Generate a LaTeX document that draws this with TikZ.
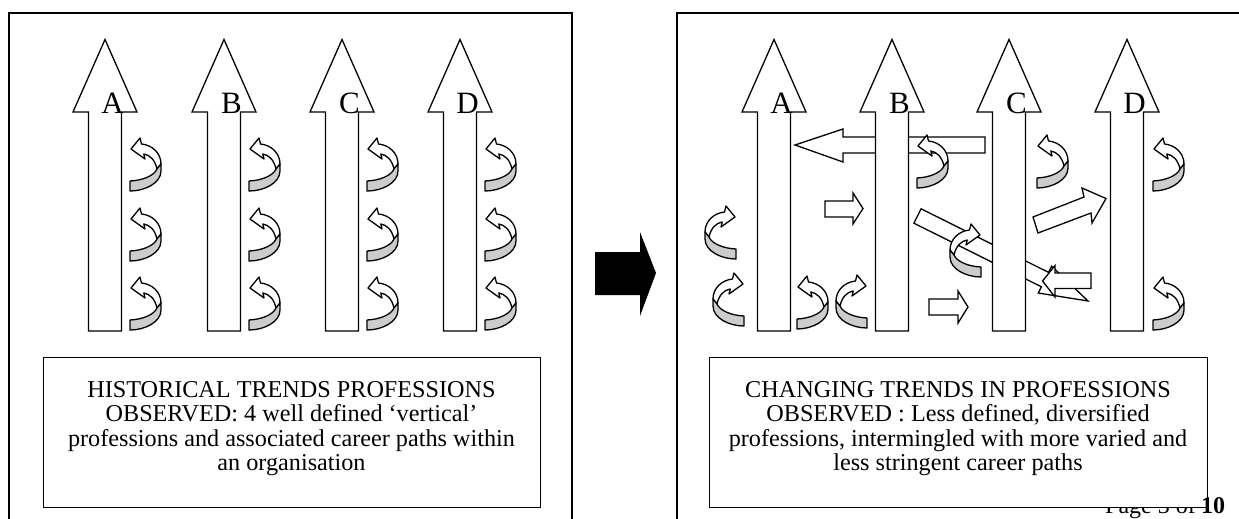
\documentclass[tikz,border=0pt]{standalone}
\usepackage{fontspec}
\setmainfont{Liberation Serif}
\tikzset{
  blk/.style={draw=black, line width=1.3pt, fill=white, line join=miter},
  paneltop/.style={draw=black, line width=2.2pt},
  panelside/.style={draw=black, line width=1.2pt},
  tbox/.style={draw=black, line width=1.4pt, fill=white},
  curlline/.style={draw=black, line width=1.3pt, line join=round},
  curl/.pic={
    \path[curlline, fill=white] (1,11) -- (10,0) -- (11.5,6) .. controls (22,7) and (31,15) .. (31,26) -- (27,31) .. controls (25,22) and (20,17) .. (13.8,16) -- (15,21) -- cycle;
    \path[curlline, fill=black!20] (0,43) .. controls (12,42.5) and (24,38) .. (27,31) -- (31,26) -- (31,33) .. controls (31,45) and (15,53) .. (0,53) -- cycle;
  },
  curlR/.pic={
    \path[curlline, fill=white] (30,11) -- (21,0) -- (19.5,6) .. controls (9,7) and (0,15) .. (0,26) -- (4,31) .. controls (6,22) and (11,17) .. (17.2,16) -- (16,21) -- cycle;
    \path[curlline, fill=black!20] (31,43) .. controls (19,42.5) and (7,38) .. (4,31) -- (0,26) -- (0,33) .. controls (0,45) and (16,53) .. (31,53) -- cycle;
  },
  lbl/.style={font=\fontsize{31}{31}\selectfont, inner sep=0pt, anchor=base},
  txt/.style={font=\fontsize{24.2}{25}\selectfont, inner sep=0pt, anchor=base},
  pagetxt/.style={font=\fontsize{24}{24}\selectfont, inner sep=0pt},
}
\newcommand\vprof[3]{%
  \draw[blk] (#1,39.5) -- ++(32,72.5) -- ++(-15.5,0) -- ++(0,219) -- ++(-33,0) -- ++(0,-219) -- ++(-15.5,0) -- cycle;
  \node[lbl] (#3) at (#1+7.5,113) {#2};
}
\begin{document}
\begin{tikzpicture}[x=1pt,y=-1pt]
\useasboundingbox (0,0) rectangle (1239,519);
% panels
\draw[panelside] (9,519) -- (9,13);
\draw[panelside] (572,519) -- (572,13);
\draw[paneltop] (8.4,13) -- (572.6,13);
\draw[panelside] (677,519) -- (677,13);
\draw[paneltop] (676.4,13) -- (1245,13);
% black transition arrow
\fill[black] (595,252) -- (640,252) -- (640,232) -- (656,273) -- (640,316) -- (640,295) -- (595,295) -- cycle;

% ---------- left panel ----------
\vprof{105}{A}{la}
\vprof{224}{B}{lb}
\vprof{342}{C}{lc}
\vprof{460}{D}{ld}
\foreach \xx in {105,224,342,460}{
  \foreach \yy in {138,208,277}{
    \pic at (\xx+25,\yy) {curl};
  }
}
\node[tbox, minimum width=497pt, minimum height=150pt, anchor=north west, inner sep=0pt] (lbox) at (43,357) {};
\node[txt] (lt1) at (291.5,397) {HISTORICAL TRENDS PROFESSIONS};
\node[txt] (lt2) at (291.5,421.5) {OBSERVED: 4 well defined ‘vertical’};
\node[txt] (lt3) at (291.5,446) {professions and associated career paths within};
\node[txt] (lt4) at (291.5,470.5) {an organisation};

% ---------- right panel ----------
\draw[blk] (795,145) -- (843,129) -- (843,137) -- (985,137) -- (985,153) -- (843,153) -- (843,162) -- cycle;
\draw[blk] (921.1,208.8) -- (1048.6,272.4) -- (1051.7,266.2) -- (1088,301) -- (1038.3,293) -- (1041.4,286.8) -- (913.9,223.2) -- cycle;
\vprof{774}{A}{ra}
\vprof{892}{B}{rb}
\vprof{1009}{C}{rc}
\vprof{1127}{D}{rd}
\draw[blk] (825,201) -- (853,201) -- (853,193) -- (863,208.5) -- (853,224) -- (853,217) -- (825,217) -- cycle;
\draw[blk] (929,299) -- (958,299) -- (958,291) -- (968,307) -- (958,323) -- (958,315) -- (929,315) -- cycle;
\draw[blk] (1042.5,281) -- (1055,265.5) -- (1055,273) -- (1091,273) -- (1091,288.5) -- (1055,288.5) -- (1055,297) -- cycle;
\draw[blk] (1033,217) -- (1084,197) -- (1082,188) -- (1106,198.5) -- (1092,223) -- (1091,213) -- (1038,233) -- cycle;
\pic at (705,206) {curlR};
\pic at (713,273) {curlR};
\pic at (797,276) {curl};
\pic at (836,275) {curlR};
\pic at (917,135) {curl};
\pic at (950,224) {curlR};
\pic at (1037,135) {curl};
\pic at (1153,138) {curl};
\pic at (1153,277) {curl};

\node[pagetxt, anchor=base east] (pg) at (1196,513) {Page 3 of};
\node[tbox, minimum width=498pt, minimum height=150pt, anchor=north west, inner sep=0pt] (rbox) at (709,357) {};
\node[txt] (rt1) at (958,397) {CHANGING TRENDS IN PROFESSIONS};
\node[txt] (rt2) at (958,421.5) {OBSERVED : Less defined, diversified};
\node[txt] (rt3) at (958,446) {professions, intermingled with more varied and};
\node[txt] (rt4) at (958,470.5) {less stringent career paths};
\node[pagetxt, anchor=base west, font=\bfseries\fontsize{24}{24}\selectfont] (pgn) at (1201,513) {10};
\end{tikzpicture}
\end{document}
